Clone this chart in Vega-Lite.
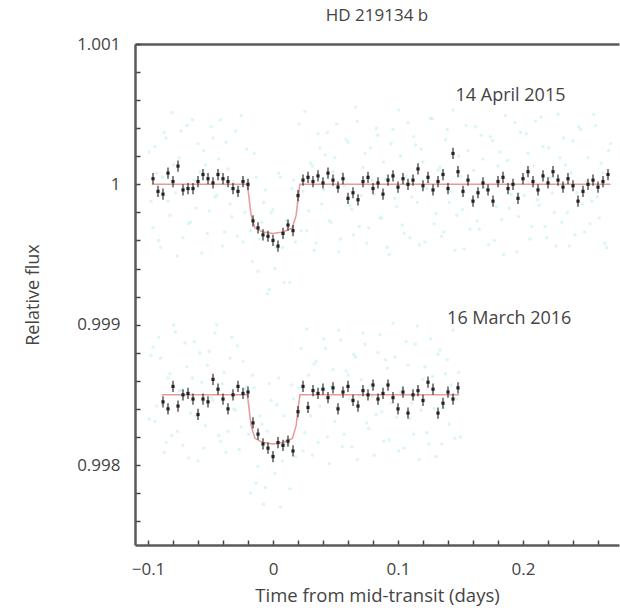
{
"$schema": "https://vega.github.io/schema/vega-lite/v6.json",
"width": 484,
"height": 501,
"autosize": {"type": "none"},
"padding": {"left": 135, "top": 44, "right": 1, "bottom": 63},
"background": "white",
"title": {"text": "HD 219134 b", "fontSize": 17, "font": "Open Sans", "fontWeight": "normal", "color": "#444", "offset": 10, "anchor": "middle"},
"config": {
  "view": {"stroke": null},
  "font": "Open Sans",
  "axis": {"grid": false, "domainColor": "#5a5a5a", "domainWidth": 2.5, "tickColor": "#444", "tickWidth": 1.5, "labelColor": "#444", "titleColor": "#444", "labelFont": "Open Sans", "titleFont": "Open Sans", "titleFontWeight": "normal", "labelFontSize": 17, "titleFontSize": 18, "labelFlush": false, "labelOverlap": false}
},
"datasets": {
"raw": [
{"s":"2015","t":-0.099,"f":1.00023},{"s":"2015","t":-0.096,"f":0.99969},{"s":"2015","t":-0.093,"f":1.00008},{"s":"2015","t":-0.090,"f":0.99955},{"s":"2015","t":-0.087,"f":1.00037},{"s":"2015","t":-0.084,"f":0.99988},{"s":"2015","t":-0.081,"f":1.00051},{"s":"2015","t":-0.078,"f":0.99994},{"s":"2015","t":-0.075,"f":1.00019},{"s":"2015","t":-0.072,"f":0.99962},
{"s":"2015","t":-0.069,"f":1.00042},{"s":"2015","t":-0.066,"f":0.99973},{"s":"2015","t":-0.063,"f":1.00003},{"s":"2015","t":-0.060,"f":1.00029},{"s":"2015","t":-0.057,"f":0.99951},{"s":"2015","t":-0.054,"f":1.00014},{"s":"2015","t":-0.051,"f":0.99981},{"s":"2015","t":-0.048,"f":1.00033},{"s":"2015","t":-0.045,"f":0.99992},{"s":"2015","t":-0.042,"f":1.00046},
{"s":"2015","t":-0.039,"f":0.99966},{"s":"2015","t":-0.036,"f":1.00011},{"s":"2015","t":-0.033,"f":0.99977},{"s":"2015","t":-0.030,"f":1.00038},{"s":"2015","t":-0.027,"f":0.99998},{"s":"2015","t":-0.024,"f":0.99959},{"s":"2015","t":-0.021,"f":1.00025},{"s":"2015","t":-0.018,"f":0.99967},{"s":"2015","t":-0.015,"f":1.00022},{"s":"2015","t":-0.012,"f":0.99938},
{"s":"2015","t":-0.009,"f":0.99973},{"s":"2015","t":-0.006,"f":0.99996},{"s":"2015","t":-0.003,"f":0.99925},{"s":"2015","t":0.000,"f":0.99982},{"s":"2015","t":0.003,"f":0.99955},{"s":"2015","t":0.006,"f":1.00005},{"s":"2015","t":0.009,"f":0.99930},{"s":"2015","t":0.012,"f":0.99969},{"s":"2015","t":0.015,"f":0.99997},{"s":"2015","t":0.018,"f":0.99959},
{"s":"2015","t":0.021,"f":1.00043},{"s":"2015","t":0.024,"f":0.99995},{"s":"2015","t":0.027,"f":0.99967},{"s":"2015","t":0.030,"f":1.00015},{"s":"2015","t":0.033,"f":0.99953},{"s":"2015","t":0.036,"f":1.00036},{"s":"2015","t":0.039,"f":0.99986},{"s":"2015","t":0.042,"f":1.00021},{"s":"2015","t":0.045,"f":0.99974},{"s":"2015","t":0.048,"f":1.00009},
{"s":"2015","t":0.051,"f":1.00043},{"s":"2015","t":0.054,"f":0.99961},{"s":"2015","t":0.057,"f":0.99999},{"s":"2015","t":0.060,"f":1.00030},{"s":"2015","t":0.063,"f":0.99982},{"s":"2015","t":0.066,"f":1.00055},{"s":"2015","t":0.069,"f":0.99970},{"s":"2015","t":0.072,"f":1.00012},{"s":"2015","t":0.075,"f":0.99958},{"s":"2015","t":0.078,"f":1.00026},
{"s":"2015","t":0.081,"f":0.99993},{"s":"2015","t":0.084,"f":1.00035},{"s":"2015","t":0.087,"f":0.99976},{"s":"2015","t":0.090,"f":1.00004},{"s":"2015","t":0.093,"f":0.99950},{"s":"2015","t":0.096,"f":1.00039},{"s":"2015","t":0.099,"f":0.99984},{"s":"2015","t":0.102,"f":1.00020},{"s":"2015","t":0.105,"f":0.99965},{"s":"2015","t":0.108,"f":1.00044},
{"s":"2015","t":0.111,"f":0.99991},{"s":"2015","t":0.114,"f":1.00028},{"s":"2015","t":0.117,"f":0.99957},{"s":"2015","t":0.120,"f":1.00016},{"s":"2015","t":0.123,"f":0.99997},{"s":"2015","t":0.126,"f":1.00047},{"s":"2015","t":0.129,"f":0.99972},{"s":"2015","t":0.132,"f":1.00010},{"s":"2015","t":0.135,"f":0.99963},{"s":"2015","t":0.138,"f":1.00032},
{"s":"2015","t":0.141,"f":0.99987},{"s":"2015","t":0.144,"f":1.00053},{"s":"2015","t":0.147,"f":0.99978},{"s":"2015","t":0.150,"f":1.00006},{"s":"2015","t":0.153,"f":0.99954},{"s":"2015","t":0.156,"f":1.00024},{"s":"2015","t":0.159,"f":0.99989},{"s":"2015","t":0.162,"f":1.00041},{"s":"2015","t":0.165,"f":0.99968},{"s":"2015","t":0.168,"f":1.00018},
{"s":"2015","t":0.171,"f":0.99996},{"s":"2015","t":0.174,"f":1.00034},{"s":"2015","t":0.177,"f":0.99960},{"s":"2015","t":0.180,"f":1.00013},{"s":"2015","t":0.183,"f":0.99975},{"s":"2015","t":0.186,"f":1.00049},{"s":"2015","t":0.189,"f":0.99983},{"s":"2015","t":0.192,"f":1.00001},{"s":"2015","t":0.195,"f":0.99952},{"s":"2015","t":0.198,"f":1.00037},
{"s":"2015","t":0.201,"f":0.99992},{"s":"2015","t":0.204,"f":1.00022},{"s":"2015","t":0.207,"f":0.99970},{"s":"2015","t":0.210,"f":1.00045},{"s":"2015","t":0.213,"f":0.99985},{"s":"2015","t":0.216,"f":1.00027},{"s":"2015","t":0.219,"f":0.99962},{"s":"2015","t":0.222,"f":1.00005},{"s":"2015","t":0.225,"f":0.99980},{"s":"2015","t":0.228,"f":1.00050},
{"s":"2015","t":0.231,"f":0.99973},{"s":"2015","t":0.234,"f":1.00014},{"s":"2015","t":0.237,"f":0.99956},{"s":"2015","t":0.240,"f":1.00031},{"s":"2015","t":0.243,"f":0.99994},{"s":"2015","t":0.246,"f":1.00039},{"s":"2015","t":0.249,"f":0.99966},{"s":"2015","t":0.252,"f":1.00019},{"s":"2015","t":0.255,"f":0.99988},{"s":"2015","t":0.258,"f":1.00042},
{"s":"2015","t":0.261,"f":0.99976},{"s":"2015","t":0.264,"f":1.00008},{"s":"2015","t":0.267,"f":0.99955},{"s":"2015","t":0.270,"f":1.00029},
{"s":"2015","t":-0.0975,"f":0.99988},{"s":"2015","t":-0.0945,"f":1.00027},{"s":"2015","t":-0.0915,"f":0.99960},{"s":"2015","t":-0.0885,"f":1.00005},{"s":"2015","t":-0.0855,"f":1.00033},{"s":"2015","t":-0.0825,"f":0.99978},{"s":"2015","t":-0.0795,"f":1.00014},{"s":"2015","t":-0.0765,"f":0.99949},{"s":"2015","t":-0.0735,"f":1.00038},{"s":"2015","t":-0.0705,"f":0.99997},
{"s":"2015","t":-0.0675,"f":0.99972},{"s":"2015","t":-0.0645,"f":1.00046},{"s":"2015","t":-0.0615,"f":0.99983},{"s":"2015","t":-0.0585,"f":1.00009},{"s":"2015","t":-0.0555,"f":1.00024},{"s":"2015","t":-0.0525,"f":0.99965},{"s":"2015","t":-0.0495,"f":1.00041},{"s":"2015","t":-0.0465,"f":0.99991},{"s":"2015","t":-0.0435,"f":1.00018},{"s":"2015","t":-0.0405,"f":0.99956},
{"s":"2015","t":-0.0375,"f":1.00030},{"s":"2015","t":-0.0345,"f":0.99986},{"s":"2015","t":-0.0315,"f":1.00002},{"s":"2015","t":-0.0285,"f":0.99963},{"s":"2015","t":-0.0255,"f":1.00049},{"s":"2015","t":-0.0225,"f":0.99980},{"s":"2015","t":-0.0195,"f":0.99999},{"s":"2015","t":-0.0165,"f":0.99945},{"s":"2015","t":-0.0135,"f":1.00005},{"s":"2015","t":-0.0105,"f":0.99961},
{"s":"2015","t":-0.0075,"f":0.99987},{"s":"2015","t":-0.0045,"f":0.99922},{"s":"2015","t":-0.0015,"f":0.99980},{"s":"2015","t":0.0015,"f":0.99940},{"s":"2015","t":0.0045,"f":1.00008},{"s":"2015","t":0.0075,"f":0.99955},{"s":"2015","t":0.0105,"f":0.99974},{"s":"2015","t":0.0135,"f":0.99930},{"s":"2015","t":0.0165,"f":1.00003},{"s":"2015","t":0.0195,"f":0.99987},
{"s":"2015","t":0.0225,"f":0.99967},{"s":"2015","t":0.0255,"f":1.00052},{"s":"2015","t":0.0285,"f":0.99981},{"s":"2015","t":0.0315,"f":1.00013},{"s":"2015","t":0.0345,"f":0.99958},{"s":"2015","t":0.0375,"f":1.00026},{"s":"2015","t":0.0405,"f":0.99996},{"s":"2015","t":0.0435,"f":1.00037},{"s":"2015","t":0.0465,"f":0.99973},{"s":"2015","t":0.0495,"f":1.00019},
{"s":"2015","t":0.0525,"f":0.99952},{"s":"2015","t":0.0555,"f":1.00008},{"s":"2015","t":0.0585,"f":1.00032},{"s":"2015","t":0.0615,"f":0.99985},{"s":"2015","t":0.0645,"f":0.99964},{"s":"2015","t":0.0675,"f":1.00045},{"s":"2015","t":0.0705,"f":0.99992},{"s":"2015","t":0.0735,"f":1.00022},{"s":"2015","t":0.0765,"f":0.99969},{"s":"2015","t":0.0795,"f":1.00003},
{"s":"2015","t":0.0825,"f":1.00040},{"s":"2015","t":0.0855,"f":0.99976},{"s":"2015","t":0.0885,"f":1.00016},{"s":"2015","t":0.0915,"f":0.99955},{"s":"2015","t":0.0945,"f":1.00029},{"s":"2015","t":0.0975,"f":0.99990},{"s":"2015","t":0.1005,"f":1.00053},{"s":"2015","t":0.1035,"f":0.99971},{"s":"2015","t":0.1065,"f":1.00006},{"s":"2015","t":0.1095,"f":0.99962},
{"s":"2015","t":0.1125,"f":1.00034},{"s":"2015","t":0.1155,"f":0.99987},{"s":"2015","t":0.1185,"f":1.00025},{"s":"2015","t":0.1215,"f":0.99959},{"s":"2015","t":0.1245,"f":1.00001},{"s":"2015","t":0.1275,"f":1.00047},{"s":"2015","t":0.1305,"f":0.99979},{"s":"2015","t":0.1335,"f":1.00012},{"s":"2015","t":0.1365,"f":0.99966},{"s":"2015","t":0.1395,"f":1.00039},
{"s":"2015","t":0.1425,"f":0.99995},{"s":"2015","t":0.1455,"f":0.99953},{"s":"2015","t":0.1485,"f":1.00020},{"s":"2015","t":0.1515,"f":0.99982},{"s":"2015","t":0.1545,"f":1.00042},{"s":"2015","t":0.1575,"f":0.99968},{"s":"2015","t":0.1605,"f":1.00010},{"s":"2015","t":0.1635,"f":0.99974},{"s":"2015","t":0.1665,"f":1.00035},{"s":"2015","t":0.1695,"f":0.99998},
{"s":"2015","t":0.1725,"f":0.99957},{"s":"2015","t":0.1755,"f":1.00031},{"s":"2015","t":0.1785,"f":0.99984},{"s":"2015","t":0.1815,"f":1.00023},{"s":"2015","t":0.1845,"f":0.99950},{"s":"2015","t":0.1875,"f":1.00017},{"s":"2015","t":0.1905,"f":0.99993},{"s":"2015","t":0.1935,"f":1.00044},{"s":"2015","t":0.1965,"f":0.99977},{"s":"2015","t":0.1995,"f":1.00004},
{"s":"2015","t":0.2025,"f":1.00036},{"s":"2015","t":0.2055,"f":0.99961},{"s":"2015","t":0.2085,"f":1.00013},{"s":"2015","t":0.2115,"f":0.99989},{"s":"2015","t":0.2145,"f":1.00048},{"s":"2015","t":0.2175,"f":0.99970},{"s":"2015","t":0.2205,"f":1.00026},{"s":"2015","t":0.2235,"f":0.99994},{"s":"2015","t":0.2265,"f":0.99956},{"s":"2015","t":0.2295,"f":1.00019},
{"s":"2015","t":0.2325,"f":1.00033},{"s":"2015","t":0.2355,"f":0.99980},{"s":"2015","t":0.2385,"f":1.00008},{"s":"2015","t":0.2415,"f":0.99964},{"s":"2015","t":0.2445,"f":1.00041},{"s":"2015","t":0.2475,"f":0.99986},{"s":"2015","t":0.2505,"f":1.00002},{"s":"2015","t":0.2535,"f":0.99972},{"s":"2015","t":0.2565,"f":1.00050},{"s":"2015","t":0.2595,"f":0.99991},
{"s":"2015","t":0.2625,"f":1.00015},{"s":"2015","t":0.2655,"f":0.99958},{"s":"2015","t":0.2685,"f":1.00024},
{"s":"2016","t":-0.099,"f":0.99833},{"s":"2016","t":-0.096,"f":0.99884},{"s":"2016","t":-0.093,"f":0.99842},{"s":"2016","t":-0.090,"f":0.99876},{"s":"2016","t":-0.087,"f":0.99809},{"s":"2016","t":-0.084,"f":0.99862},{"s":"2016","t":-0.081,"f":0.99821},{"s":"2016","t":-0.078,"f":0.99895},{"s":"2016","t":-0.075,"f":0.99853},{"s":"2016","t":-0.072,"f":0.99814},
{"s":"2016","t":-0.069,"f":0.99870},{"s":"2016","t":-0.066,"f":0.99837},{"s":"2016","t":-0.063,"f":0.99888},{"s":"2016","t":-0.060,"f":0.99803},{"s":"2016","t":-0.057,"f":0.99859},{"s":"2016","t":-0.054,"f":0.99828},{"s":"2016","t":-0.051,"f":0.99881},{"s":"2016","t":-0.048,"f":0.99846},{"s":"2016","t":-0.045,"f":0.99900},{"s":"2016","t":-0.042,"f":0.99817},
{"s":"2016","t":-0.039,"f":0.99866},{"s":"2016","t":-0.036,"f":0.99824},{"s":"2016","t":-0.033,"f":0.99891},{"s":"2016","t":-0.030,"f":0.99839},{"s":"2016","t":-0.027,"f":0.99811},{"s":"2016","t":-0.024,"f":0.99874},{"s":"2016","t":-0.021,"f":0.99856},{"s":"2016","t":-0.018,"f":0.99780},{"s":"2016","t":-0.015,"f":0.99855},{"s":"2016","t":-0.012,"f":0.99799},
{"s":"2016","t":-0.009,"f":0.99829},{"s":"2016","t":-0.006,"f":0.99784},{"s":"2016","t":-0.003,"f":0.99858},{"s":"2016","t":0.000,"f":0.99808},{"s":"2016","t":0.003,"f":0.99843},{"s":"2016","t":0.006,"f":0.99770},{"s":"2016","t":0.009,"f":0.99835},{"s":"2016","t":0.012,"f":0.99815},{"s":"2016","t":0.015,"f":0.99857},{"s":"2016","t":0.018,"f":0.99806},
{"s":"2016","t":0.021,"f":0.99855},{"s":"2016","t":0.024,"f":0.99810},{"s":"2016","t":0.027,"f":0.99897},{"s":"2016","t":0.030,"f":0.99835},{"s":"2016","t":0.033,"f":0.99872},{"s":"2016","t":0.036,"f":0.99816},{"s":"2016","t":0.039,"f":0.99854},{"s":"2016","t":0.042,"f":0.99883},{"s":"2016","t":0.045,"f":0.99801},{"s":"2016","t":0.048,"f":0.99868},
{"s":"2016","t":0.051,"f":0.99841},{"s":"2016","t":0.054,"f":0.99889},{"s":"2016","t":0.057,"f":0.99822},{"s":"2016","t":0.060,"f":0.99864},{"s":"2016","t":0.063,"f":0.99813},{"s":"2016","t":0.066,"f":0.99877},{"s":"2016","t":0.069,"f":0.99849},{"s":"2016","t":0.072,"f":0.99894},{"s":"2016","t":0.075,"f":0.99830},{"s":"2016","t":0.078,"f":0.99857},
{"s":"2016","t":0.081,"f":0.99807},{"s":"2016","t":0.084,"f":0.99880},{"s":"2016","t":0.087,"f":0.99838},{"s":"2016","t":0.090,"f":0.99875},{"s":"2016","t":0.093,"f":0.99818},{"s":"2016","t":0.096,"f":0.99901},{"s":"2016","t":0.099,"f":0.99834},{"s":"2016","t":0.102,"f":0.99852},{"s":"2016","t":0.105,"f":0.99812},{"s":"2016","t":0.108,"f":0.99871},
{"s":"2016","t":0.111,"f":0.99844},{"s":"2016","t":0.114,"f":0.99886},{"s":"2016","t":0.117,"f":0.99804},{"s":"2016","t":0.120,"f":0.99861},{"s":"2016","t":0.123,"f":0.99823},{"s":"2016","t":0.126,"f":0.99890},{"s":"2016","t":0.129,"f":0.99840},{"s":"2016","t":0.132,"f":0.99879},{"s":"2016","t":0.135,"f":0.99815},{"s":"2016","t":0.138,"f":0.99865},
{"s":"2016","t":0.141,"f":0.99829},{"s":"2016","t":0.144,"f":0.99896},{"s":"2016","t":0.147,"f":0.99847},{"s":"2016","t":0.150,"f":0.99820},
{"s":"2016","t":-0.0975,"f":0.99878},{"s":"2016","t":-0.0945,"f":0.99831},{"s":"2016","t":-0.0915,"f":0.99891},{"s":"2016","t":-0.0885,"f":0.99843},{"s":"2016","t":-0.0855,"f":0.99816},{"s":"2016","t":-0.0825,"f":0.99865},{"s":"2016","t":-0.0795,"f":0.99900},{"s":"2016","t":-0.0765,"f":0.99824},{"s":"2016","t":-0.0735,"f":0.99853},{"s":"2016","t":-0.0705,"f":0.99887},
{"s":"2016","t":-0.0675,"f":0.99805},{"s":"2016","t":-0.0645,"f":0.99862},{"s":"2016","t":-0.0615,"f":0.99835},{"s":"2016","t":-0.0585,"f":0.99880},{"s":"2016","t":-0.0555,"f":0.99812},{"s":"2016","t":-0.0525,"f":0.99871},{"s":"2016","t":-0.0495,"f":0.99848},{"s":"2016","t":-0.0465,"f":0.99894},{"s":"2016","t":-0.0435,"f":0.99821},{"s":"2016","t":-0.0405,"f":0.99858},
{"s":"2016","t":-0.0375,"f":0.99809},{"s":"2016","t":-0.0345,"f":0.99876},{"s":"2016","t":-0.0315,"f":0.99840},{"s":"2016","t":-0.0285,"f":0.99885},{"s":"2016","t":-0.0255,"f":0.99827},{"s":"2016","t":-0.0225,"f":0.99854},{"s":"2016","t":-0.0195,"f":0.99822},{"s":"2016","t":-0.0165,"f":0.99864},{"s":"2016","t":-0.0135,"f":0.99787},{"s":"2016","t":-0.0105,"f":0.99835},
{"s":"2016","t":-0.0075,"f":0.99772},{"s":"2016","t":-0.0045,"f":0.99824},{"s":"2016","t":-0.0015,"f":0.99846},{"s":"2016","t":0.0015,"f":0.99794},{"s":"2016","t":0.0045,"f":0.99862},{"s":"2016","t":0.0075,"f":0.99803},{"s":"2016","t":0.0105,"f":0.99817},{"s":"2016","t":0.0135,"f":0.99783},{"s":"2016","t":0.0165,"f":0.99847},{"s":"2016","t":0.0195,"f":0.99833},
{"s":"2016","t":0.0225,"f":0.99883},{"s":"2016","t":0.0255,"f":0.99823},{"s":"2016","t":0.0285,"f":0.99864},{"s":"2016","t":0.0315,"f":0.99807},{"s":"2016","t":0.0345,"f":0.99874},{"s":"2016","t":0.0375,"f":0.99842},{"s":"2016","t":0.0405,"f":0.99890},{"s":"2016","t":0.0435,"f":0.99820},{"s":"2016","t":0.0465,"f":0.99856},{"s":"2016","t":0.0495,"f":0.99831},
{"s":"2016","t":0.0525,"f":0.99896},{"s":"2016","t":0.0555,"f":0.99813},{"s":"2016","t":0.0585,"f":0.99867},{"s":"2016","t":0.0615,"f":0.99847},{"s":"2016","t":0.0645,"f":0.99879},{"s":"2016","t":0.0675,"f":0.99804},{"s":"2016","t":0.0705,"f":0.99861},{"s":"2016","t":0.0735,"f":0.99886},{"s":"2016","t":0.0765,"f":0.99826},{"s":"2016","t":0.0795,"f":0.99849},
{"s":"2016","t":0.0825,"f":0.99836},{"s":"2016","t":0.0855,"f":0.99893},{"s":"2016","t":0.0885,"f":0.99817},{"s":"2016","t":0.0915,"f":0.99869},{"s":"2016","t":0.0945,"f":0.99844},{"s":"2016","t":0.0975,"f":0.99877},{"s":"2016","t":0.1005,"f":0.99810},{"s":"2016","t":0.1035,"f":0.99855},{"s":"2016","t":0.1065,"f":0.99888},{"s":"2016","t":0.1095,"f":0.99833},
{"s":"2016","t":0.1125,"f":0.99822},{"s":"2016","t":0.1155,"f":0.99899},{"s":"2016","t":0.1185,"f":0.99839},{"s":"2016","t":0.1215,"f":0.99870},{"s":"2016","t":0.1245,"f":0.99815},{"s":"2016","t":0.1275,"f":0.99863},{"s":"2016","t":0.1305,"f":0.99806},{"s":"2016","t":0.1335,"f":0.99882},{"s":"2016","t":0.1365,"f":0.99841},{"s":"2016","t":0.1395,"f":0.99875},
{"s":"2016","t":0.1425,"f":0.99857},{"s":"2016","t":0.1455,"f":0.99819},{"s":"2016","t":0.1485,"f":0.99866}
],
"model": [
{"s":"2015","t":-0.097,"f":1.0},{"s":"2015","t":-0.0205,"f":1.0},{"s":"2015","t":-0.0175,"f":0.99978},{"s":"2015","t":-0.0145,"f":0.99969},{"s":"2015","t":-0.008,"f":0.99966},{"s":"2015","t":0.0,"f":0.99965},{"s":"2015","t":0.008,"f":0.99966},{"s":"2015","t":0.0155,"f":0.99969},{"s":"2015","t":0.0185,"f":0.99978},{"s":"2015","t":0.0215,"f":1.0},{"s":"2015","t":0.27,"f":1.0},
{"s":"2016","t":-0.089,"f":0.9985},{"s":"2016","t":-0.0205,"f":0.9985},{"s":"2016","t":-0.0175,"f":0.99828},{"s":"2016","t":-0.0145,"f":0.99819},{"s":"2016","t":-0.008,"f":0.99816},{"s":"2016","t":0.0,"f":0.99815},{"s":"2016","t":0.008,"f":0.99816},{"s":"2016","t":0.0155,"f":0.99819},{"s":"2016","t":0.0185,"f":0.99828},{"s":"2016","t":0.0215,"f":0.9985},{"s":"2016","t":0.149,"f":0.9985}
],
"bin": [
{"s":"2015","t":-0.096,"f":1.00004,"e":0.00004},{"s":"2015","t":-0.092,"f":0.99995,"e":0.00004},{"s":"2015","t":-0.088,"f":0.99993,"e":0.00004},{"s":"2015","t":-0.084,"f":1.00008,"e":0.00004},{"s":"2015","t":-0.080,"f":1.00002,"e":0.00004},{"s":"2015","t":-0.076,"f":1.00013,"e":0.00004},{"s":"2015","t":-0.072,"f":0.99996,"e":0.00004},{"s":"2015","t":-0.068,"f":0.99997,"e":0.00004},{"s":"2015","t":-0.064,"f":0.99997,"e":0.00004},{"s":"2015","t":-0.060,"f":1.00002,"e":0.00004},
{"s":"2015","t":-0.056,"f":1.00007,"e":0.00004},{"s":"2015","t":-0.052,"f":1.00004,"e":0.00004},{"s":"2015","t":-0.048,"f":1.00001,"e":0.00004},{"s":"2015","t":-0.044,"f":1.00007,"e":0.00004},{"s":"2015","t":-0.040,"f":1.00004,"e":0.00004},{"s":"2015","t":-0.036,"f":1.00002,"e":0.00004},{"s":"2015","t":-0.032,"f":0.99997,"e":0.00004},{"s":"2015","t":-0.028,"f":0.99995,"e":0.00004},{"s":"2015","t":-0.024,"f":1.00002,"e":0.00004},{"s":"2015","t":-0.020,"f":1.00000,"e":0.00004},
{"s":"2015","t":-0.016,"f":0.99974,"e":0.00004},{"s":"2015","t":-0.012,"f":0.99969,"e":0.00004},{"s":"2015","t":-0.008,"f":0.99964,"e":0.00004},{"s":"2015","t":-0.004,"f":0.99963,"e":0.00004},{"s":"2015","t":0.000,"f":0.99960,"e":0.00004},{"s":"2015","t":0.004,"f":0.99956,"e":0.00004},{"s":"2015","t":0.008,"f":0.99965,"e":0.00004},{"s":"2015","t":0.012,"f":0.99971,"e":0.00004},{"s":"2015","t":0.016,"f":0.99967,"e":0.00004},{"s":"2015","t":0.020,"f":0.99992,"e":0.00004},
{"s":"2015","t":0.024,"f":1.00003,"e":0.00004},{"s":"2015","t":0.028,"f":1.00005,"e":0.00004},{"s":"2015","t":0.032,"f":1.00002,"e":0.00004},{"s":"2015","t":0.036,"f":1.00006,"e":0.00004},{"s":"2015","t":0.040,"f":1.00001,"e":0.00004},{"s":"2015","t":0.044,"f":1.00008,"e":0.00004},{"s":"2015","t":0.048,"f":1.00003,"e":0.00004},{"s":"2015","t":0.052,"f":0.99998,"e":0.00004},{"s":"2015","t":0.056,"f":1.00004,"e":0.00004},{"s":"2015","t":0.060,"f":0.99990,"e":0.00004},
{"s":"2015","t":0.064,"f":0.99994,"e":0.00004},{"s":"2015","t":0.068,"f":0.99989,"e":0.00004},{"s":"2015","t":0.072,"f":1.00002,"e":0.00004},{"s":"2015","t":0.076,"f":1.00005,"e":0.00004},{"s":"2015","t":0.080,"f":0.99997,"e":0.00004},{"s":"2015","t":0.084,"f":1.00001,"e":0.00004},{"s":"2015","t":0.088,"f":0.99993,"e":0.00004},{"s":"2015","t":0.092,"f":1.00003,"e":0.00004},{"s":"2015","t":0.096,"f":1.00006,"e":0.00004},{"s":"2015","t":0.100,"f":0.99998,"e":0.00004},
{"s":"2015","t":0.104,"f":1.00004,"e":0.00004},{"s":"2015","t":0.108,"f":1.00000,"e":0.00004},{"s":"2015","t":0.112,"f":1.00003,"e":0.00004},{"s":"2015","t":0.116,"f":1.00011,"e":0.00004},{"s":"2015","t":0.120,"f":0.99999,"e":0.00004},{"s":"2015","t":0.124,"f":1.00005,"e":0.00004},{"s":"2015","t":0.128,"f":0.99996,"e":0.00004},{"s":"2015","t":0.132,"f":1.00002,"e":0.00004},{"s":"2015","t":0.136,"f":1.00007,"e":0.00004},{"s":"2015","t":0.140,"f":0.99997,"e":0.00004},
{"s":"2015","t":0.144,"f":1.00022,"e":0.00004},{"s":"2015","t":0.148,"f":1.00009,"e":0.00004},{"s":"2015","t":0.152,"f":0.99995,"e":0.00004},{"s":"2015","t":0.156,"f":1.00003,"e":0.00004},{"s":"2015","t":0.160,"f":0.99988,"e":0.00004},{"s":"2015","t":0.164,"f":0.99994,"e":0.00004},{"s":"2015","t":0.168,"f":1.00001,"e":0.00004},{"s":"2015","t":0.172,"f":0.99996,"e":0.00004},{"s":"2015","t":0.176,"f":0.99988,"e":0.00004},{"s":"2015","t":0.180,"f":1.00002,"e":0.00004},
{"s":"2015","t":0.184,"f":1.00005,"e":0.00004},{"s":"2015","t":0.188,"f":0.99997,"e":0.00004},{"s":"2015","t":0.192,"f":1.00000,"e":0.00004},{"s":"2015","t":0.196,"f":0.99990,"e":0.00004},{"s":"2015","t":0.200,"f":1.00004,"e":0.00004},{"s":"2015","t":0.204,"f":1.00009,"e":0.00004},{"s":"2015","t":0.208,"f":1.00002,"e":0.00004},{"s":"2015","t":0.212,"f":0.99996,"e":0.00004},{"s":"2015","t":0.216,"f":1.00006,"e":0.00004},{"s":"2015","t":0.220,"f":1.00001,"e":0.00004},
{"s":"2015","t":0.224,"f":1.00009,"e":0.00004},{"s":"2015","t":0.228,"f":1.00003,"e":0.00004},{"s":"2015","t":0.232,"f":0.99998,"e":0.00004},{"s":"2015","t":0.236,"f":1.00004,"e":0.00004},{"s":"2015","t":0.240,"f":0.99999,"e":0.00004},{"s":"2015","t":0.244,"f":0.99988,"e":0.00004},{"s":"2015","t":0.248,"f":0.99995,"e":0.00004},{"s":"2015","t":0.252,"f":1.00000,"e":0.00004},{"s":"2015","t":0.256,"f":1.00003,"e":0.00004},{"s":"2015","t":0.260,"f":0.99998,"e":0.00004},
{"s":"2015","t":0.264,"f":1.00002,"e":0.00004},{"s":"2015","t":0.268,"f":1.00007,"e":0.00004},
{"s":"2016","t":-0.088,"f":0.99845,"e":0.00004},{"s":"2016","t":-0.084,"f":0.99840,"e":0.00004},{"s":"2016","t":-0.080,"f":0.99856,"e":0.00004},{"s":"2016","t":-0.076,"f":0.99842,"e":0.00004},{"s":"2016","t":-0.072,"f":0.99850,"e":0.00004},{"s":"2016","t":-0.068,"f":0.99851,"e":0.00004},{"s":"2016","t":-0.064,"f":0.99847,"e":0.00004},{"s":"2016","t":-0.060,"f":0.99836,"e":0.00004},{"s":"2016","t":-0.056,"f":0.99847,"e":0.00004},{"s":"2016","t":-0.052,"f":0.99845,"e":0.00004},
{"s":"2016","t":-0.048,"f":0.99861,"e":0.00004},{"s":"2016","t":-0.044,"f":0.99854,"e":0.00004},{"s":"2016","t":-0.040,"f":0.99847,"e":0.00004},{"s":"2016","t":-0.036,"f":0.99840,"e":0.00004},{"s":"2016","t":-0.032,"f":0.99850,"e":0.00004},{"s":"2016","t":-0.028,"f":0.99856,"e":0.00004},{"s":"2016","t":-0.024,"f":0.99851,"e":0.00004},{"s":"2016","t":-0.020,"f":0.99852,"e":0.00004},{"s":"2016","t":-0.016,"f":0.99830,"e":0.00004},{"s":"2016","t":-0.012,"f":0.99822,"e":0.00004},
{"s":"2016","t":-0.008,"f":0.99815,"e":0.00004},{"s":"2016","t":-0.004,"f":0.99812,"e":0.00004},{"s":"2016","t":0.000,"f":0.99806,"e":0.00004},{"s":"2016","t":0.004,"f":0.99816,"e":0.00004},{"s":"2016","t":0.008,"f":0.99814,"e":0.00004},{"s":"2016","t":0.012,"f":0.99817,"e":0.00004},{"s":"2016","t":0.016,"f":0.99810,"e":0.00004},{"s":"2016","t":0.020,"f":0.99838,"e":0.00004},{"s":"2016","t":0.024,"f":0.99856,"e":0.00004},{"s":"2016","t":0.028,"f":0.99841,"e":0.00004},
{"s":"2016","t":0.032,"f":0.99853,"e":0.00004},{"s":"2016","t":0.036,"f":0.99851,"e":0.00004},{"s":"2016","t":0.040,"f":0.99854,"e":0.00004},{"s":"2016","t":0.044,"f":0.99848,"e":0.00004},{"s":"2016","t":0.048,"f":0.99855,"e":0.00004},{"s":"2016","t":0.052,"f":0.99840,"e":0.00004},{"s":"2016","t":0.056,"f":0.99852,"e":0.00004},{"s":"2016","t":0.060,"f":0.99856,"e":0.00004},{"s":"2016","t":0.064,"f":0.99846,"e":0.00004},{"s":"2016","t":0.068,"f":0.99842,"e":0.00004},
{"s":"2016","t":0.072,"f":0.99853,"e":0.00004},{"s":"2016","t":0.076,"f":0.99850,"e":0.00004},{"s":"2016","t":0.080,"f":0.99857,"e":0.00004},{"s":"2016","t":0.084,"f":0.99847,"e":0.00004},{"s":"2016","t":0.088,"f":0.99851,"e":0.00004},{"s":"2016","t":0.092,"f":0.99857,"e":0.00004},{"s":"2016","t":0.096,"f":0.99848,"e":0.00004},{"s":"2016","t":0.100,"f":0.99840,"e":0.00004},{"s":"2016","t":0.104,"f":0.99852,"e":0.00004},{"s":"2016","t":0.108,"f":0.99837,"e":0.00004},
{"s":"2016","t":0.112,"f":0.99850,"e":0.00004},{"s":"2016","t":0.116,"f":0.99853,"e":0.00004},{"s":"2016","t":0.120,"f":0.99846,"e":0.00004},{"s":"2016","t":0.124,"f":0.99859,"e":0.00004},{"s":"2016","t":0.128,"f":0.99854,"e":0.00004},{"s":"2016","t":0.132,"f":0.99837,"e":0.00004},{"s":"2016","t":0.136,"f":0.99844,"e":0.00004},{"s":"2016","t":0.140,"f":0.99852,"e":0.00004},{"s":"2016","t":0.144,"f":0.99847,"e":0.00004},{"s":"2016","t":0.148,"f":0.99855,"e":0.00004}
],
"notes": [
{"t":0.19,"f":1.00063,"label":"14 April 2015"},
{"t":0.189,"f":0.99904,"label":"16 March 2016"}
]
},
"resolve": {"axis": {"x": "independent"}},
"layer": [
{
  "data": {"name": "raw"},
  "mark": {"type": "point", "filled": true, "size": 12, "color": "#bdeef0", "opacity": 0.55},
  "encoding": {
    "x": {"field": "t", "type": "quantitative", "scale": {"domain": [-0.1104, 0.2768], "nice": false, "zero": false},
      "axis": {"orient": "bottom", "title": "Time from mid-transit (days)", "titlePadding": 9, "titleFontSize": 18.5, "labelOverlap": false, "tickCount": 100, "values": [-0.1,-0.08,-0.06,-0.04,-0.02,0,0.02,0.04,0.06,0.08,0.1,0.12,0.14,0.16,0.18,0.2,0.22,0.24,0.26], "labelExpr": "abs(datum.value*10 - round(datum.value*10)) < 0.01 ? (abs(datum.value) < 0.001 ? '0' : format(datum.value, '.1f')) : ''", "tickSize": -5, "labelPadding": 21}},
    "y": {"field": "f", "type": "quantitative", "title": "Relative flux", "scale": {"domain": [0.99743, 1.001], "nice": false, "zero": false},
      "axis": {"titlePadding": 34, "labelOverlap": false, "tickCount": 100, "values": [0.9976,0.9978,0.998,0.9982,0.9984,0.9986,0.9988,0.999,0.9992,0.9994,0.9996,0.9998,1,1.0002,1.0004,1.0006,1.0008,1.001], "labelExpr": "abs(datum.value*1000 - round(datum.value*1000)) < 0.01 ? format(datum.value, '.4~f') : ''", "tickSize": -5, "labelPadding": 20}}
  }
},
{
  "data": {"name": "model"},
  "mark": {"type": "line", "color": "#e79a9a", "strokeWidth": 1.5},
  "encoding": {
    "x": {"field": "t", "type": "quantitative", "axis": {"orient": "top", "labels": false, "ticks": false, "title": null, "domain": true}},
    "y": {"field": "f", "type": "quantitative", "title": "Relative flux"},
    "detail": {"field": "s"}
  }
},
{
  "data": {"name": "bin"},
  "mark": {"type": "errorbar", "color": "#333", "thickness": 1.2},
  "encoding": {
    "x": {"field": "t", "type": "quantitative", "axis": null},
    "y": {"field": "f", "type": "quantitative", "title": "Relative flux"},
    "yError": {"field": "e"},
    "detail": {"field": "s"}
  }
},
{
  "data": {"name": "bin"},
  "mark": {"type": "square", "filled": true, "size": 10, "color": "#222", "opacity": 1},
  "encoding": {
    "x": {"field": "t", "type": "quantitative", "axis": null},
    "y": {"field": "f", "type": "quantitative", "title": "Relative flux"}
  }
},
{
  "data": {"name": "notes"},
  "mark": {"type": "text", "fontSize": 18, "color": "#444", "font": "Open Sans", "align": "center", "baseline": "middle"},
  "encoding": {
    "x": {"field": "t", "type": "quantitative", "axis": null},
    "y": {"field": "f", "type": "quantitative", "title": "Relative flux"},
    "text": {"field": "label"}
  }
}
]
}
